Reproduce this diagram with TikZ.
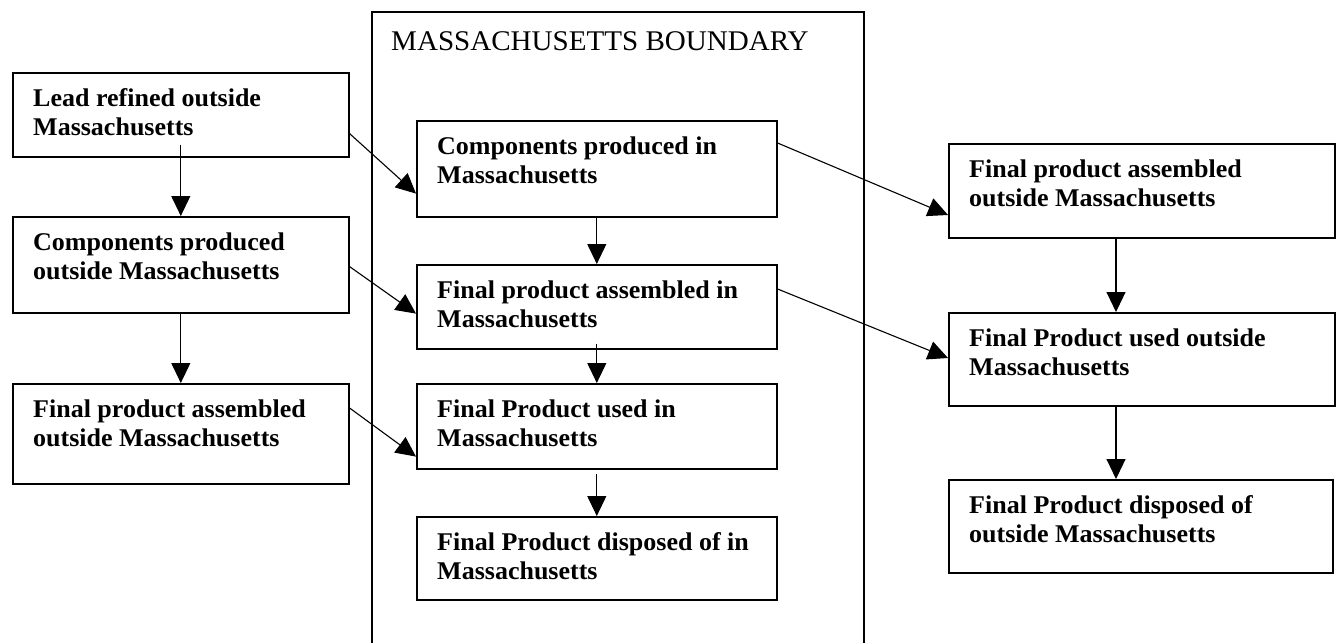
\documentclass[tikz,border=0pt]{standalone}
\usepackage{fontspec}
\setmainfont[FakeStretch=1.02]{Liberation Serif}
\usetikzlibrary{arrows.meta,calc}

\tikzset{
  box/.style={draw, line width=1.6pt, rectangle, anchor=north west, inner sep=0pt},
  boxtext/.style={anchor=north west, inner sep=0pt, align=left,
    font=\fontsize{25.5}{29}\selectfont\bfseries},
  arr/.style={line width=1.1pt, -{Triangle[length=20pt,width=19pt]}},
  frame/.style={line width=1.6pt},
}

\begin{document}
\begin{tikzpicture}[x=1pt,y=-1pt]
\useasboundingbox (0,0) rectangle (1337,643);

% Massachusetts boundary (open at the bottom of the page)
\draw[frame] (372,643) -- (372,12) -- (864,12) -- (864,643);
\node[anchor=base west, inner sep=0pt, font=\fontsize{28.5}{32}\selectfont] (title) at (391,50) {MASSACHUSETTS BOUNDARY};

% left column
\node[box, minimum width=336pt, minimum height=84pt] (L1) at (12,72) {};
\node[box, minimum width=336pt, minimum height=96pt] (L2) at (12,216) {};
\node[box, minimum width=336pt, minimum height=100pt] (L3) at (12,383) {};
% middle column
\node[box, minimum width=360pt, minimum height=96pt] (M1) at (416,120) {};
\node[box, minimum width=360pt, minimum height=84pt] (M2) at (416,264) {};
\node[box, minimum width=360pt, minimum height=85pt] (M3) at (416,383) {};
\node[box, minimum width=360pt, minimum height=83pt] (M4) at (416,516) {};
% right column
\node[box, minimum width=386pt, minimum height=94pt] (R1) at (948,143) {};
\node[box, minimum width=386pt, minimum height=93pt] (R2) at (948,312) {};
\node[box, minimum width=384pt, minimum height=93pt] (R3) at (948,479) {};

% labels
\foreach \b/\t in {
  L1/{Lead refined outside\\Massachusetts},
  L2/{Components produced\\outside Massachusetts},
  L3/{Final product assembled\\outside Massachusetts},
  M1/{Components produced in\\Massachusetts},
  M2/{Final product assembled in\\Massachusetts},
  M3/{Final Product used in\\Massachusetts},
  M4/{Final Product disposed of in\\Massachusetts},
  R1/{Final product assembled\\outside Massachusetts},
  R2/{Final Product used outside\\Massachusetts},
  R3/{Final Product disposed of\\outside Massachusetts}}
  \node[boxtext] (\b t) at ([xshift=21pt,yshift=-13.7pt]\b.north west) {\strut\t};

% vertical flows
\draw[arr] ([yshift=13pt]L1.south) -- (L2.north);
\draw[arr] (L2.south) -- (L3.north);
\draw[arr] (M1.south) -- (M2.north);
\draw[arr] ([yshift=6pt]M2.south) -- (M3.north);
\draw[arr] ([yshift=-4pt]M3.south) -- (M4.north);
\draw[arr] ([xshift=168pt]R1.south west) -- ([xshift=168pt]R2.north west);
\draw[arr] ([xshift=168pt]R2.south west) -- ([xshift=168pt]R3.north west);

% flows across the boundary
\draw[arr] ([yshift=24pt]L1.south east) -- ([yshift=24pt]M1.south west);
\draw[arr] ([yshift=47pt]L2.south east) -- ([yshift=36pt]M2.south west);
\draw[arr] ([yshift=-25pt]L3.north east) -- ([yshift=13pt]M3.south west);
\draw[arr] ([yshift=-23pt]M1.north east) -- ([yshift=-72pt]R1.north west);
\draw[arr] ([yshift=-25pt]M2.north east) -- ([yshift=-46pt]R2.north west);
\end{tikzpicture}
\end{document}
